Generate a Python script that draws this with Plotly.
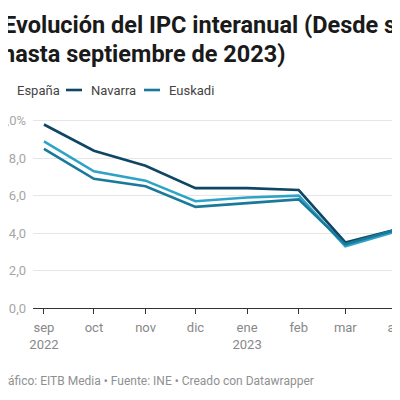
import plotly.graph_objects as go

months = ["2022-09-01", "2022-10-01", "2022-11-01", "2022-12-01", "2023-01-01",
          "2023-02-01", "2023-03-01", "2023-04-01"]
tick_labels = ["sep<br>2022", "oct", "nov", "dic", "ene<br>2023", "feb", "mar", "abr"]
espana = [8.9, 7.3, 6.8, 5.7, 5.9, 6.0, 3.3, 4.1]
navarra = [9.8, 8.4, 7.6, 6.4, 6.4, 6.3, 3.5, 4.2]
euskadi = [8.5, 6.9, 6.5, 5.4, 5.6, 5.8, 3.4, 4.2]
series_names = ["España", "Navarra", "Euskadi"]
series_colors = ["#2fa3c6", "#0e4664", "#19799b"]
y_ticks = [0, 2, 4, 6, 8, 10]
y_tick_labels = ["0,0", "2,0", "4,0", "6,0", "8,0", "10,0%"]

OFF = 8  # page body margin
W, H = 392, 382
ML, MR, MT = 25, 0, 109
MB = H - 300
PW = W - ML - MR
PH = H - MT - MB

def px(x_page):
    return (x_page - OFF - ML) / PW

def py(y_page):
    return (H - MB - (y_page - OFF)) / PH

fig = go.Figure()
for name, vals, col in zip(series_names, [espana, navarra, euskadi], series_colors):
    fig.add_trace(go.Scatter(x=months, y=vals, mode="lines", name=name,
                             line=dict(color=col, width=2.6), showlegend=False))

fig.update_layout(
    width=W, height=H,
    margin=dict(l=ML, r=MR, t=MT, b=MB, pad=0),
    paper_bgcolor="white", plot_bgcolor="white",
    font=dict(family="Roboto", color="#333"),
    xaxis=dict(type="date", range=["2022-08-25 10:00", "2023-04-02 20:00"],
               tickvals=months, ticktext=tick_labels, automargin=False,
               ticklabeloverflow="allow", ticklabelstandoff=2,
               ticks="outside", ticklen=5, tickcolor="#333", tickwidth=1,
               showline=True, linecolor="#333", linewidth=1.2,
               showgrid=False, zeroline=False,
               tickfont=dict(family="Roboto", size=13, color="#888")),
    yaxis=dict(range=[0, 10.2], tickvals=y_ticks, ticktext=y_tick_labels,
               automargin=False, ticklabeloverflow="allow",
               showgrid=True, gridcolor="#e6e6e6", gridwidth=1,
               zeroline=False, ticks="", ticklabelstandoff=6,
               tickfont=dict(family="Roboto", size=13, color="#a6a6a6")),
)

annotations = [
    dict(text="<b>Evolución del IPC interanual (Desde septiembre de 2022</b>",
         x=px(1), y=py(25), xref="paper", yref="paper", xanchor="left", yanchor="middle",
         showarrow=False, font=dict(family="Roboto", size=23.5, color="#1a1a1a")),
    dict(text="<b>hasta septiembre de 2023)</b>",
         x=px(0), y=py(54), xref="paper", yref="paper", xanchor="left", yanchor="middle",
         showarrow=False, font=dict(family="Roboto", size=23.5, color="#1a1a1a")),
    dict(text="Gráfico: EITB Media • Fuente: INE • Creado con Datawrapper",
         x=px(-6), y=py(381), xref="paper", yref="paper", xanchor="left", yanchor="middle",
         showarrow=False, font=dict(family="Roboto", size=12, color="#909090")),
]
shapes = []
leg_x = [-8, 66, 144]
for name, col, lx in zip(series_names, series_colors, leg_x):
    shapes.append(dict(type="line", xref="paper", yref="paper",
                       x0=px(lx), x1=px(lx + 16), y0=py(90), y1=py(90),
                       line=dict(color=col, width=2.6)))
    annotations.append(dict(text=name, x=px(lx + 23), y=py(90), xref="paper", yref="paper",
                            xanchor="left", yanchor="middle", showarrow=False,
                            font=dict(family="Roboto", size=13, color="#444")))
fig.update_layout(annotations=annotations, shapes=shapes)
fig.write_html("out.html")
